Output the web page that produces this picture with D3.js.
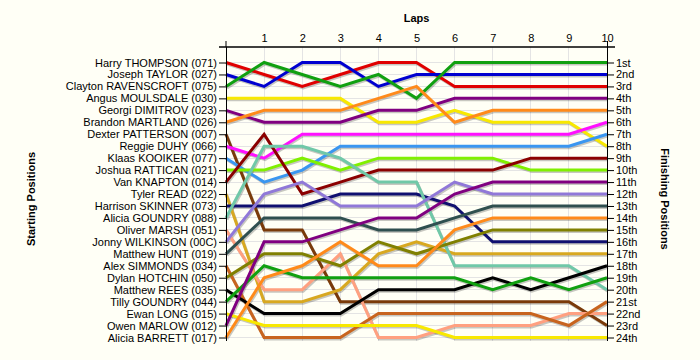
<!DOCTYPE html>
<html><head><meta charset="utf-8">
<script src="https://cdn.jsdelivr.net/npm/d3@7"></script>
<style>
html,body{margin:0;padding:0;background:#fffff6;}
svg{display:block;font-family:"Liberation Sans",Arial,sans-serif;}
</style></head>
<body><svg id="c" width="700" height="360"></svg>
<script>
const laps = [0,1,2,3,4,5,6,7,8,9,10];
const lapTicks = [1,2,3,4,5,6,7,8,9,10];
const drivers = ["Harry THOMPSON (071)","Joseph TAYLOR (027)","Clayton RAVENSCROFT (075)","Angus MOULSDALE (030)","Georgi DIMITROV (023)","Brandon MARTLAND (026)","Dexter PATTERSON (007)","Reggie DUHY (066)","Klaas KOOIKER (077)","Joshua RATTICAN (021)","Van KNAPTON (014)","Tyler READ (022)","Harrison SKINNER (073)","Alicia GOUNDRY (088)","Oliver MARSH (051)","Jonny WILKINSON (00C)","Matthew HUNT (019)","Alex SIMMONDS (034)","Dylan HOTCHIN (050)","Matthew REES (035)","Tilly GOUNDRY (044)","Ewan LONG (015)","Owen MARLOW (012)","Alicia BARRETT (017)"];
const finishLabels = ["1st","2nd","3rd","4th","5th","6th","7th","8th","9th","10th","11th","12th","13th","14th","15th","16th","17th","18th","19th","20th","21st","22nd","23rd","24th"];
const colors = ["#e00000","#0000d0","#10a010","#f8e800","#800080","#ff8a1a","#7a3a0a","#ff10ff","#3a96f0","#80f000","#8b0000","#d8a820","#101070","#70c8a8","#ffa080","#9078d8","#2f4f4f","#c8641e","#808000","#000000","#10a010","#f8e800","#800080","#ff8a1a"];
const positions = [
 [1,2,3,2,1,1,3,3,3,3,3],
 [2,3,1,1,3,2,2,2,2,2,2],
 [3,1,2,3,2,4,1,1,1,1,1],
 [4,4,4,4,6,6,5,6,6,6,8],
 [5,6,6,6,5,5,4,4,4,4,4],
 [6,5,5,5,4,3,6,5,5,5,5],
 [7,15,15,21,21,21,21,21,21,21,23],
 [8,9,7,7,7,7,7,7,7,7,6],
 [9,11,10,8,8,8,8,8,8,8,7],
 [10,10,9,10,9,9,9,9,10,10,10],
 [11,7,12,11,10,10,10,10,9,9,9],
 [12,21,21,20,17,16,17,17,17,17,17],
 [13,13,13,12,12,12,13,16,16,16,16],
 [14,8,8,9,11,11,18,18,18,18,20],
 [15,20,20,17,24,24,23,23,23,22,22],
 [16,12,11,13,13,13,11,12,12,12,12],
 [17,14,14,14,15,15,14,13,13,13,13],
 [18,24,24,24,22,22,22,22,22,23,21],
 [19,17,17,18,16,17,16,15,15,15,15],
 [20,22,22,22,20,20,20,19,20,19,18],
 [21,18,19,19,19,19,19,20,19,20,19],
 [22,23,23,23,23,23,24,24,24,24,24],
 [23,16,16,15,14,14,12,11,11,11,11],
 [24,19,18,16,18,18,15,14,14,14,14]
];

const svg = d3.select("#c");
const x = d3.scaleLinear().domain([0,10]).range([226,607]);
const y = d3.scaleLinear().domain([1,24]).range([62.5,337.5]);
const rows = d3.range(1,25);

// grid
const g = svg.append("g");
g.selectAll("line.h").data(rows).enter().append("line")
 .attr("x1",x(0)).attr("x2",x(10)).attr("y1",d=>y(d)).attr("y2",d=>y(d))
 .attr("stroke","#e4e4e4").attr("stroke-width",1).attr("shape-rendering","crispEdges");
g.selectAll("line.v").data(lapTicks).enter().append("line")
 .attr("x1",d=>x(d)).attr("x2",d=>x(d)).attr("y1",47).attr("y2",341)
 .attr("stroke","#e4e4e4").attr("stroke-width",1).attr("shape-rendering","crispEdges");

// lines
const line = d3.line().x((d,i)=>x(laps[i])).y(d=>y(d));
const lg = svg.append("g");
positions.forEach((p,i)=>{
  lg.append("path").attr("d",line(p)).attr("fill","none")
    .attr("stroke","#000").attr("stroke-opacity",0.22).attr("stroke-width",3)
    .attr("transform","translate(1,1.5)");
});
positions.forEach((p,i)=>{
  lg.append("path").attr("d",line(p)).attr("fill","none")
    .attr("stroke",colors[i]).attr("stroke-width",3);
});

// axes
const leftAx = svg.append("g").attr("transform",`translate(${x(0)},0)`)
 .call(d3.axisLeft(y).tickValues(rows).tickFormat(d=>drivers[d-1]).tickSize(7).tickSizeOuter(0));
const rightAx = svg.append("g").attr("transform",`translate(${x(10)},0)`)
 .call(d3.axisRight(y).tickValues(rows).tickFormat(d=>finishLabels[d-1]).tickSize(7).tickSizeOuter(0));
[leftAx,rightAx].forEach(a=>{
  a.select(".domain").remove();
  a.selectAll("text").attr("font-size",11).attr("fill","#000").attr("font-family","Liberation Sans, Arial, sans-serif");
  a.selectAll("line").attr("stroke","#000");
});
leftAx.selectAll("text").attr("x",-9);
rightAx.selectAll("text").attr("x",9);
svg.append("line").attr("x1",x(0)).attr("x2",x(0)).attr("y1",47).attr("y2",341).attr("stroke","#000").attr("shape-rendering","crispEdges");
svg.append("line").attr("x1",x(10)).attr("x2",x(10)).attr("y1",41).attr("y2",341).attr("stroke","#000").attr("shape-rendering","crispEdges");

const topAx = svg.append("g").attr("transform","translate(0,47)")
 .call(d3.axisTop(x).tickValues(lapTicks).tickSize(0).tickPadding(5));
topAx.select(".domain").remove();
topAx.selectAll("text").attr("font-size",11).attr("fill","#000").attr("font-family","Liberation Sans, Arial, sans-serif");
svg.append("line").attr("x1",219).attr("x2",615).attr("y1",47).attr("y2",47).attr("stroke","#000").attr("stroke-width",1.5);
svg.append("line").attr("x1",x(0)).attr("x2",x(0)).attr("y1",41).attr("y2",47).attr("stroke","#000");

// titles
svg.append("text").attr("x",(x(0)+x(10))/2).attr("y",22).attr("text-anchor","middle")
 .attr("font-size",11).attr("font-weight","bold").text("Laps");
svg.append("text").attr("transform","translate(35,199) rotate(-90)").attr("text-anchor","middle")
 .attr("font-size",11).attr("font-weight","bold").text("Starting Positions");
svg.append("text").attr("transform","translate(661,199) rotate(90)").attr("text-anchor","middle")
 .attr("font-size",11).attr("font-weight","bold").text("Finishing Positions");
</script></body></html>
